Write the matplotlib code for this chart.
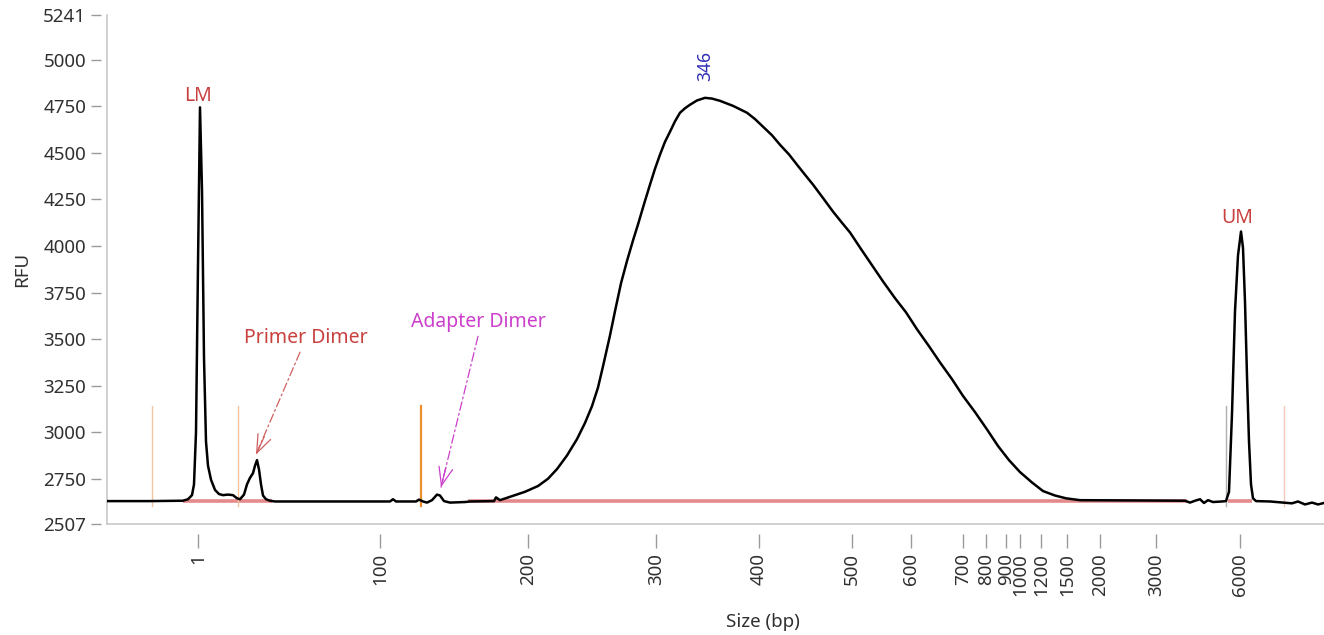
import matplotlib
matplotlib.use("Agg")
import matplotlib.pyplot as plt

plt.rcParams['font.family'] = ['Noto Sans', 'DejaVu Sans']

# electropherogram trace: migration scan position vs fluorescence
scan = [107, 150, 183, 188, 192, 194, 196, 198, 200, 202, 204, 206, 208, 211,
        215, 219, 223, 228, 233, 237, 240, 244, 247, 250, 253, 255, 257, 259,
        261, 263, 266, 270, 275, 390, 393, 396, 416, 419, 423, 427, 432, 437,
        440, 444, 450, 465, 470, 494, 496, 500, 511, 525, 538, 548, 557, 567,
        577, 585, 592, 598, 603, 610, 615, 621, 627, 633, 638, 644, 650, 655,
        660, 665, 670, 675, 680, 685, 690, 697, 705, 712, 720, 733, 747, 755,
        763, 772, 780, 789, 797, 805, 813, 823, 833, 842, 850, 860, 871, 883,
        895, 906, 917, 929, 940, 952, 963, 975, 987, 998, 1009, 1020, 1032,
        1043, 1055, 1066, 1080, 1185, 1190, 1195, 1200, 1204, 1208, 1213, 1222,
        1226, 1229, 1232, 1235, 1238, 1241, 1243, 1245, 1247, 1249, 1251, 1253,
        1256, 1270, 1284, 1292, 1298, 1305, 1312, 1318, 1324]
rfu = [2630, 2630, 2632, 2640, 2662, 2720, 3000, 3900, 4745, 4300, 3400, 2950,
       2820, 2745, 2690, 2668, 2662, 2665, 2662, 2645, 2640, 2665, 2720, 2755,
       2780, 2820, 2850, 2800, 2720, 2660, 2640, 2632, 2628, 2628, 2640, 2628,
       2628, 2638, 2628, 2622, 2635, 2665, 2660, 2630, 2622, 2625, 2628, 2630,
       2650, 2635, 2655, 2680, 2711, 2750, 2802, 2875, 2963, 3050, 3140, 3240,
       3354, 3520, 3650, 3800, 3920, 4030, 4116, 4225, 4330, 4415, 4491, 4560,
       4614, 4670, 4716, 4740, 4759, 4782, 4796, 4792, 4780, 4753, 4716, 4682,
       4641, 4595, 4544, 4492, 4437, 4383, 4330, 4258, 4185, 4125, 4073, 3992,
       3905, 3810, 3720, 3644, 3553, 3462, 3375, 3285, 3195, 3108, 3015, 2926,
       2850, 2786, 2730, 2684, 2660, 2645, 2635, 2632, 2622, 2632, 2640, 2620,
       2635, 2625, 2628, 2630, 2680, 3100, 3650, 3950, 4078, 3990, 3700, 3300,
       2950, 2720, 2645, 2630, 2628, 2622, 2618, 2628, 2612, 2622, 2612, 2620]

# size ladder calibration (bp -> scan position)
size_labels = ['1', '100', '200', '300', '400', '500', '600', '700', '800',
               '900', '1000', '1200', '1500', '2000', '3000', '6000']
size_scan = [198, 380, 528, 656, 759, 852, 911, 963, 986, 1006, 1020, 1041,
             1067, 1100, 1156, 1240]

rfu_ticks = [2507, 2750, 3000, 3250, 3500, 3750, 4000, 4250, 4500, 4750, 5000, 5241]

# peak baseline segments (start, end) and level
baseline_segments = [(183, 272), (468, 1187), (1228, 1252)]
baseline_rfu = 2630

# region markers
marker_scan = [152, 238, 421, 1226, 1284]
marker_colors = ['#f2c4a0', '#f2c4a0', '#e8902c', '#b0b0b0', '#f4c8bc']
marker_widths = [1.0, 1.0, 1.6, 1.0, 1.0]
marker_lo, marker_hi = 2604, 3140

spine_grey = '#c8c8c8'
red = '#c8413f'
magenta = '#cc3fcc'
dash_dot = (0, (7, 2.5, 1.5, 2.5))

fig = plt.figure(figsize=(13.24, 6.35), dpi=100)
ax = fig.add_axes([107 / 1324, 111 / 635, 1217 / 1324, 509 / 635])

for a, b in baseline_segments:
    ax.plot([a, b], [baseline_rfu, baseline_rfu], color='#e48a8a', lw=2.6,
            zorder=1, solid_capstyle='butt')

for xm, c, w in zip(marker_scan, marker_colors, marker_widths):
    ax.plot([xm, xm], [marker_lo, marker_hi], color=c, lw=w, zorder=1)

ax.plot(scan, rfu, color='black', lw=1.8, zorder=3)

ax.set_xlim(107, 1324)
ax.set_ylim(2507, 5241)

# spines drawn as plain lines, ticks pushed slightly away from them
for side in ['top', 'right']:
    ax.spines[side].set_visible(False)
ax.spines['left'].set_position(('outward', 4))
ax.spines['bottom'].set_position(('outward', 7))
ax.spines['left'].set_visible(False)
ax.spines['bottom'].set_visible(False)
ax.plot([0, 0], [0, 1], transform=ax.transAxes, color=spine_grey, lw=1.2,
        clip_on=False)
ax.plot([0, 1], [0, 0], transform=ax.transAxes, color=spine_grey, lw=1.2,
        clip_on=False)

ax.set_yticks(rfu_ticks)
ax.set_yticklabels([str(v) for v in rfu_ticks])
ax.set_xticks(size_scan)
ax.set_xticklabels(size_labels, rotation=90)
ax.tick_params(axis='both', colors='#9a9a9a', labelcolor='#303030',
               labelsize=13.5, width=1.0)
ax.tick_params(axis='y', length=7, pad=4)
ax.tick_params(axis='x', length=10, pad=4)

ax.set_ylabel('RFU', fontsize=13.5, color='#303030')
ax.yaxis.set_label_coords(-0.062, 0.5)
ax.set_xlabel('Size (bp)', fontsize=13.5, color='#303030')
ax.xaxis.set_label_coords((763 - 107) / 1217, -0.175)

# peak labels
ax.text(198, 4807, 'LM', color=red, fontsize=14, ha='center', va='center')
ax.text(1237, 4153, 'UM', color=red, fontsize=14, ha='center', va='center')
ax.text(705, 4968, '346', color='#2e2eb4', fontsize=12.5, rotation=90,
        ha='center', va='center')

# dimer callouts: dash-dot shaft with a solid open head
ax.text(306, 3505, 'Primer Dimer', color=red, fontsize=14,
        ha='center', va='center')
ax.annotate('', xy=(256, 2880), xytext=(300, 3430),
            arrowprops=dict(arrowstyle='-', color='#d06060', lw=0.9,
                            linestyle=dash_dot, shrinkA=0, shrinkB=0))
ax.annotate('', xy=(256, 2880), xytext=(6, 13), textcoords='offset points',
            arrowprops=dict(arrowstyle='->,head_length=1.3,head_width=0.5',
                            color='#d06060', lw=0.9, shrinkA=0, shrinkB=0))

ax.text(478, 3590, 'Adapter Dimer', color=magenta, fontsize=14,
        ha='center', va='center')
ax.annotate('', xy=(441, 2705), xytext=(478, 3515),
            arrowprops=dict(arrowstyle='-', color=magenta, lw=0.9,
                            linestyle=dash_dot, shrinkA=0, shrinkB=0))
ax.annotate('', xy=(441, 2705), xytext=(3.5, 14), textcoords='offset points',
            arrowprops=dict(arrowstyle='->,head_length=1.3,head_width=0.5',
                            color=magenta, lw=0.9, shrinkA=0, shrinkB=0))

fig.savefig('out.png', dpi=100, facecolor='white')
